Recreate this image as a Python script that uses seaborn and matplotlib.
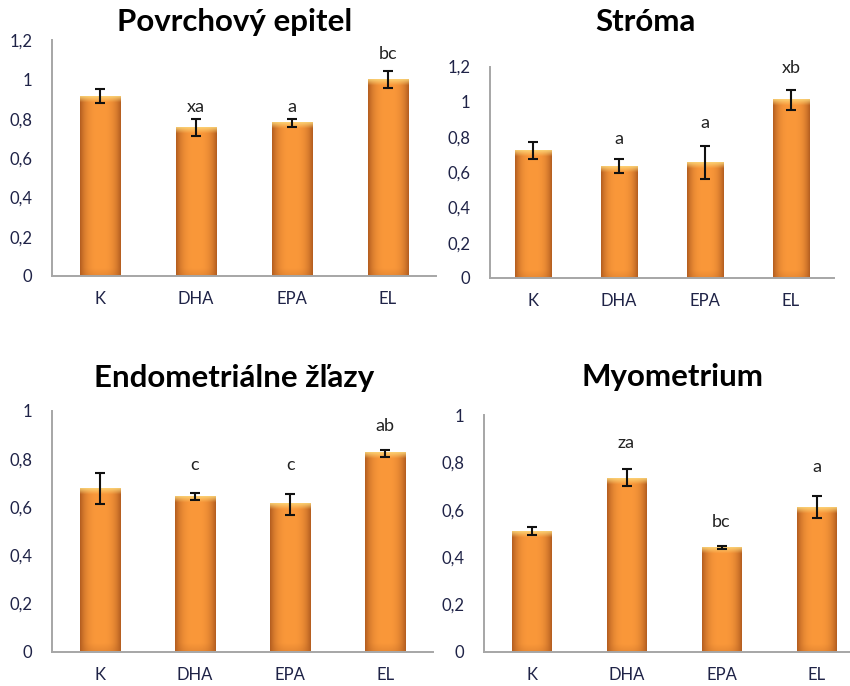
import numpy as np
import pandas as pd
import matplotlib
matplotlib.use("Agg")
import matplotlib.pyplot as plt
from matplotlib.ticker import FuncFormatter, MultipleLocator
import seaborn as sns

# Groups and measured values (mean +/- error) for each tissue
groups = ["K", "DHA", "EPA", "EL"]

epitel_mean = [0.915, 0.755, 0.78, 1.0]
epitel_err = [0.037, 0.042, 0.02, 0.042]
epitel_sig = ["", "xa", "a", "bc"]

stroma_mean = [0.725, 0.635, 0.655, 1.01]
stroma_err = [0.048, 0.04, 0.095, 0.055]
stroma_sig = ["", "a", "a", "xb"]

zlazy_mean = [0.675, 0.643, 0.61, 0.822]
zlazy_err = [0.065, 0.016, 0.043, 0.016]
zlazy_sig = ["", "c", "c", "ab"]

myo_mean = [0.51, 0.735, 0.44, 0.612]
myo_err = [0.018, 0.037, 0.006, 0.047]
myo_sig = ["", "za", "bc", "a"]

titles = ["Povrchový epitel", "Stróma", "Endometriálne žľazy", "Myometrium"]

# Layout: axes rectangles in pixels (left, zero-line y, width, height), y max,
# heights where the significance letters sit, title centre
W, H = 850, 686
panels = [
    dict(mean=epitel_mean, err=epitel_err, sig=epitel_sig, title=titles[0],
         rect=(52, 276, 384, 236), ymax=1.2, sig_y=[0, 0.86, 0.86, 1.13], tpos=(235, 22)),
    dict(mean=stroma_mean, err=stroma_err, sig=stroma_sig, title=titles[1],
         rect=(490, 278, 344, 211.5), ymax=1.2, sig_y=[0, 0.79, 0.88, 1.19], tpos=(645, 22)),
    dict(mean=zlazy_mean, err=zlazy_err, sig=zlazy_sig, title=titles[2],
         rect=(52, 651.5, 381, 241), ymax=1.0, sig_y=[0, 0.775, 0.775, 0.935], tpos=(234, 378)),
    dict(mean=myo_mean, err=myo_err, sig=myo_sig, title=titles[3],
         rect=(484, 651.7, 380, 236.7), ymax=1.0, sig_y=[0, 0.883, 0.547, 0.78], tpos=(673, 377)),
]

sns.set_theme(style="white")
plt.rcParams["font.family"] = ["Lato", "DejaVu Sans"]

fig = plt.figure(figsize=(W / 100, H / 100), dpi=100)
fig.patch.set_facecolor("white")

tick_color = "#1f2347"
axis_color = "#a6a6a6"


def bar_gradient(px_h, nx=64):
    """RGBA image for one bar: darker edges, bright middle, light top rim."""
    ny = max(int(px_h * 2), 20)
    xs = np.linspace(-1, 1, nx)
    edge = np.array([180, 94, 32]) / 255
    mid = np.array([250, 152, 58]) / 255
    t = np.clip(np.abs(xs) ** 3.0, 0, 1)[None, :, None]
    img = mid * (1 - t) + edge * t
    img = np.repeat(img, ny, axis=0)
    # rows go top (0) -> bottom (ny-1), measured in pixels
    ys = np.linspace(0, px_h, ny)[:, None, None]
    top = np.array([253, 218, 125]) / 255
    hl = np.clip(1 - ys / 6.0, 0, 1) * 0.85
    img = img * (1 - hl) + top * hl
    bot = np.clip((ys - (px_h - 8)) / 8, 0, 1) * 0.25
    img = img * (1 - bot) + edge * bot
    return img


for p in panels:
    left, zero_y, width, height = p["rect"]
    ax = fig.add_axes([left / W, 1 - zero_y / H, width / W, height / H])
    df = pd.DataFrame({"group": groups, "value": p["mean"]})
    sns.barplot(data=df, x="group", y="value", ax=ax, width=0.42,
                color="#f7963a", errorbar=None, saturation=1)

    for patch, m, e, s, sy in zip(ax.patches, p["mean"], p["err"], p["sig"], p["sig_y"]):
        x0 = patch.get_x()
        w = patch.get_width()
        h = patch.get_height()
        patch.set_facecolor("none")
        patch.set_edgecolor("none")
        px_h = h / p["ymax"] * height
        ax.imshow(bar_gradient(px_h), extent=[x0, x0 + w, 0, h], aspect="auto",
                  zorder=2, interpolation="bilinear")
        xc = x0 + w / 2
        ax.errorbar(xc, m, yerr=e, fmt="none", ecolor="#111111",
                    elinewidth=1.5, capsize=3.3, capthick=1.5, zorder=5)
        if s:
            ax.text(xc, sy, s, ha="center", va="center", fontsize=13,
                    color="#222222", zorder=6)

    ax.set_xlim(-0.5, 3.5)
    ax.set_ylim(0, p["ymax"])
    ax.yaxis.set_major_locator(MultipleLocator(0.2))
    ax.yaxis.set_major_formatter(FuncFormatter(lambda v, _: f"{v:.1f}".rstrip("0").rstrip(".").replace(".", ",")))
    ax.set_xlabel("")
    ax.set_ylabel("")
    ax.tick_params(axis="y", length=0, pad=14, labelsize=12, labelcolor=tick_color)
    ax.tick_params(axis="x", length=0, pad=11, labelsize=12, labelcolor=tick_color)
    ax.set_facecolor("none")
    for side in ["top", "right"]:
        ax.spines[side].set_visible(False)
    for side in ["left", "bottom"]:
        ax.spines[side].set_color(axis_color)
        ax.spines[side].set_linewidth(1.4)
    ax.grid(False)

    tx, ty = p["tpos"]
    fig.text(tx / W, 1 - ty / H, p["title"], ha="center", va="center",
             fontsize=22.5, fontweight="bold", color="black")

fig.savefig("out.png", dpi=100, facecolor="white")
